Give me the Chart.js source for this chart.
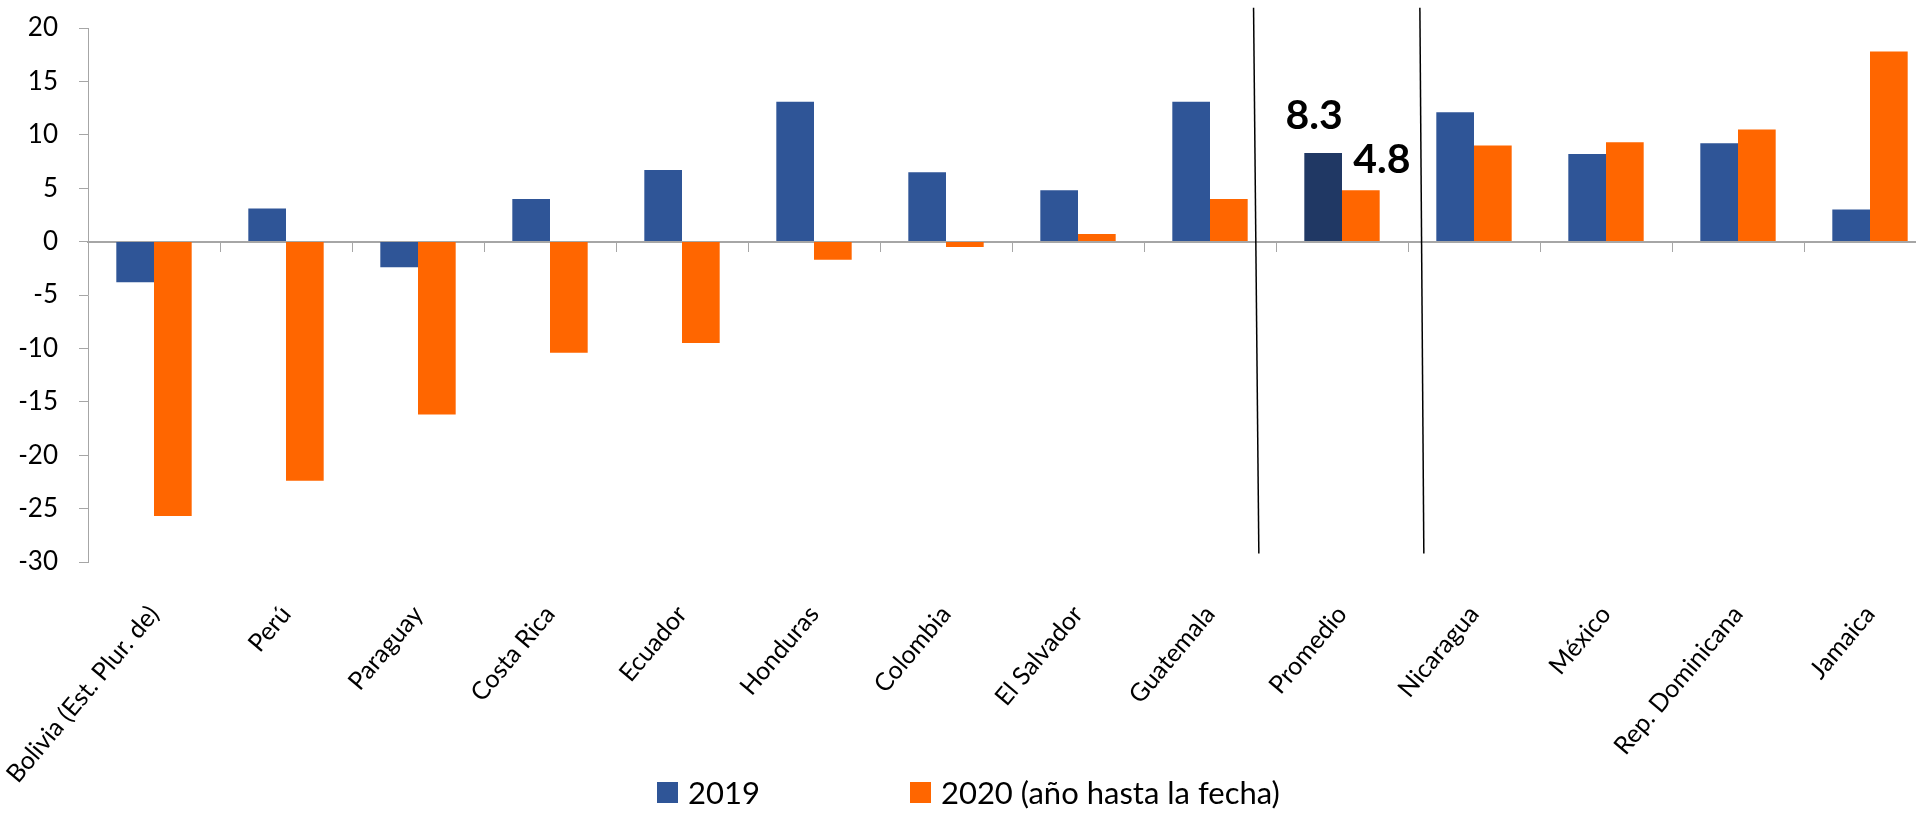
<!DOCTYPE html>
<html>
<head>
<meta charset="utf-8">
<script src="https://cdn.jsdelivr.net/npm/chart.js@4.4.1/dist/chart.umd.min.js"></script>
<style>
  html, body { margin: 0; padding: 0; background: #fff; overflow: hidden; }
  #wrap { position: relative; width: 1940px; height: 828px; }
  #legend { position: absolute; left: 657px; top: 777px; display: flex; gap: 150px;
            font-family: Lato, sans-serif; font-size: 31px; line-height: 31px; color: #000; }
  #legend .item { display: flex; align-items: center; }
  #legend .box { width: 21px; height: 21px; margin-right: 10px; }
</style>
</head>
<body>
<div id="wrap">
  <canvas id="chart" width="1940" height="828"></canvas>
  <div id="legend"></div>
</div>
<script>
const categories = ['Bolivia (Est. Plur. de)', 'Perú', 'Paraguay', 'Costa Rica', 'Ecuador', 'Honduras',
  'Colombia', 'El Salvador', 'Guatemala', 'Promedio', 'Nicaragua', 'México', 'Rep. Dominicana', 'Jamaica'];
const values2019 = [-3.8, 3.1, -2.4, 4.0, 6.7, 13.1, 6.5, 4.8, 13.1, 8.3, 12.1, 8.2, 9.2, 3.0];
const values2020 = [-25.7, -22.4, -16.2, -10.4, -9.5, -1.7, -0.5, 0.7, 4.0, 4.8, 9.0, 9.3, 10.5, 17.8];
const seriesNames = ['2019', '2020 (año hasta la fecha)'];
const yTicks = [20, 15, 10, 5, 0, -5, -10, -15, -20, -25, -30];

const avgIndex = categories.indexOf('Promedio');
const blue = '#2F5597', navy = '#203864', orange = '#FF6600';

// separator lines either side of the average, as [top, bottom] category positions
const separators = [[8.33, 8.37], [9.59, 9.62]];

const extras = {
  id: 'extras',
  afterDatasetsDraw(chart) {
    const ctx = chart.ctx, x = chart.scales.x, y = chart.scales.y;
    ctx.save();
    ctx.strokeStyle = '#000';
    ctx.lineWidth = 1.5;
    separators.forEach(s => {
      ctx.beginPath();
      ctx.moveTo(x.getPixelForValue(s[0]), y.getPixelForValue(21.9));
      ctx.lineTo(x.getPixelForValue(s[1]), y.getPixelForValue(-29.2));
      ctx.stroke();
    });
    // labels on the average bars
    ctx.fillStyle = '#000';
    ctx.font = 'bold 41px Lato';
    ctx.textAlign = 'center';
    ctx.textBaseline = 'alphabetic';
    const offs = [[-9, -24], [21, -17]];
    chart.data.datasets.forEach((ds, i) => {
      const el = chart.getDatasetMeta(i).data[avgIndex];
      ctx.fillText(ds.data[avgIndex].toFixed(1), el.x + offs[i][0], el.y + offs[i][1]);
    });
    ctx.restore();
  }
};

const chart = new Chart(document.getElementById('chart'), {
  type: 'bar',
  data: {
    labels: categories,
    datasets: [
      { label: seriesNames[0], data: values2019, backgroundColor: categories.map((c, i) => i === avgIndex ? navy : blue) },
      { label: seriesNames[1], data: values2020, backgroundColor: orange }
    ]
  },
  options: {
    responsive: false,
    animation: false,
    devicePixelRatio: 1,
    layout: { padding: { top: 28, right: 4, left: 0, bottom: 0 } },
    datasets: { bar: { barPercentage: 1, categoryPercentage: 0.571 } },
    plugins: { legend: { display: false }, tooltip: { enabled: false } },
    scales: {
      x: {
        type: 'category',
        position: { y: 0 },
        offset: true,
        grid: { display: true, offset: true, drawOnChartArea: false, drawTicks: true, tickLength: 9, color: '#A6A6A6', lineWidth: 1 },
        border: { display: true, color: '#A6A6A6', width: 2 },
        ticks: { display: false },
        afterFit(s) { s.height = 0; s.paddingLeft = 0; s.paddingRight = 0; }
      },
      x2: {
        type: 'category',
        position: 'bottom',
        labels: categories,
        offset: true,
        grid: { display: false, drawTicks: false },
        border: { display: false },
        ticks: { autoSkip: false, maxRotation: 50, minRotation: 50, padding: 38, color: '#000', font: { family: 'Lato', size: 25 } },
        afterFit(s) { s.height = 266; s.paddingLeft = 0; s.paddingRight = 0; }
      },
      y: {
        min: -30, max: 20,
        afterBuildTicks(s) { s.ticks = yTicks.map(v => ({ value: v })); },
        grid: { drawOnChartArea: false, drawTicks: true, tickLength: 9, color: '#A6A6A6' },
        border: { display: true, color: '#A6A6A6', width: 1 },
        ticks: { padding: 21, color: '#000', font: { family: 'Lato', size: 26 } },
        afterFit(s) { s.width = 88; s.paddingTop = 0; s.paddingBottom = 0; }
      }
    }
  },
  plugins: [extras]
});

// legend drawn as html from the chart's own datasets
const legendEl = document.getElementById('legend');
chart.data.datasets.forEach((ds, i) => {
  const item = document.createElement('div');
  item.className = 'item';
  const box = document.createElement('span');
  box.className = 'box';
  box.style.background = i === 0 ? blue : orange;
  const txt = document.createElement('span');
  txt.textContent = ds.label;
  item.appendChild(box);
  item.appendChild(txt);
  legendEl.appendChild(item);
});
</script>
</body>
</html>
